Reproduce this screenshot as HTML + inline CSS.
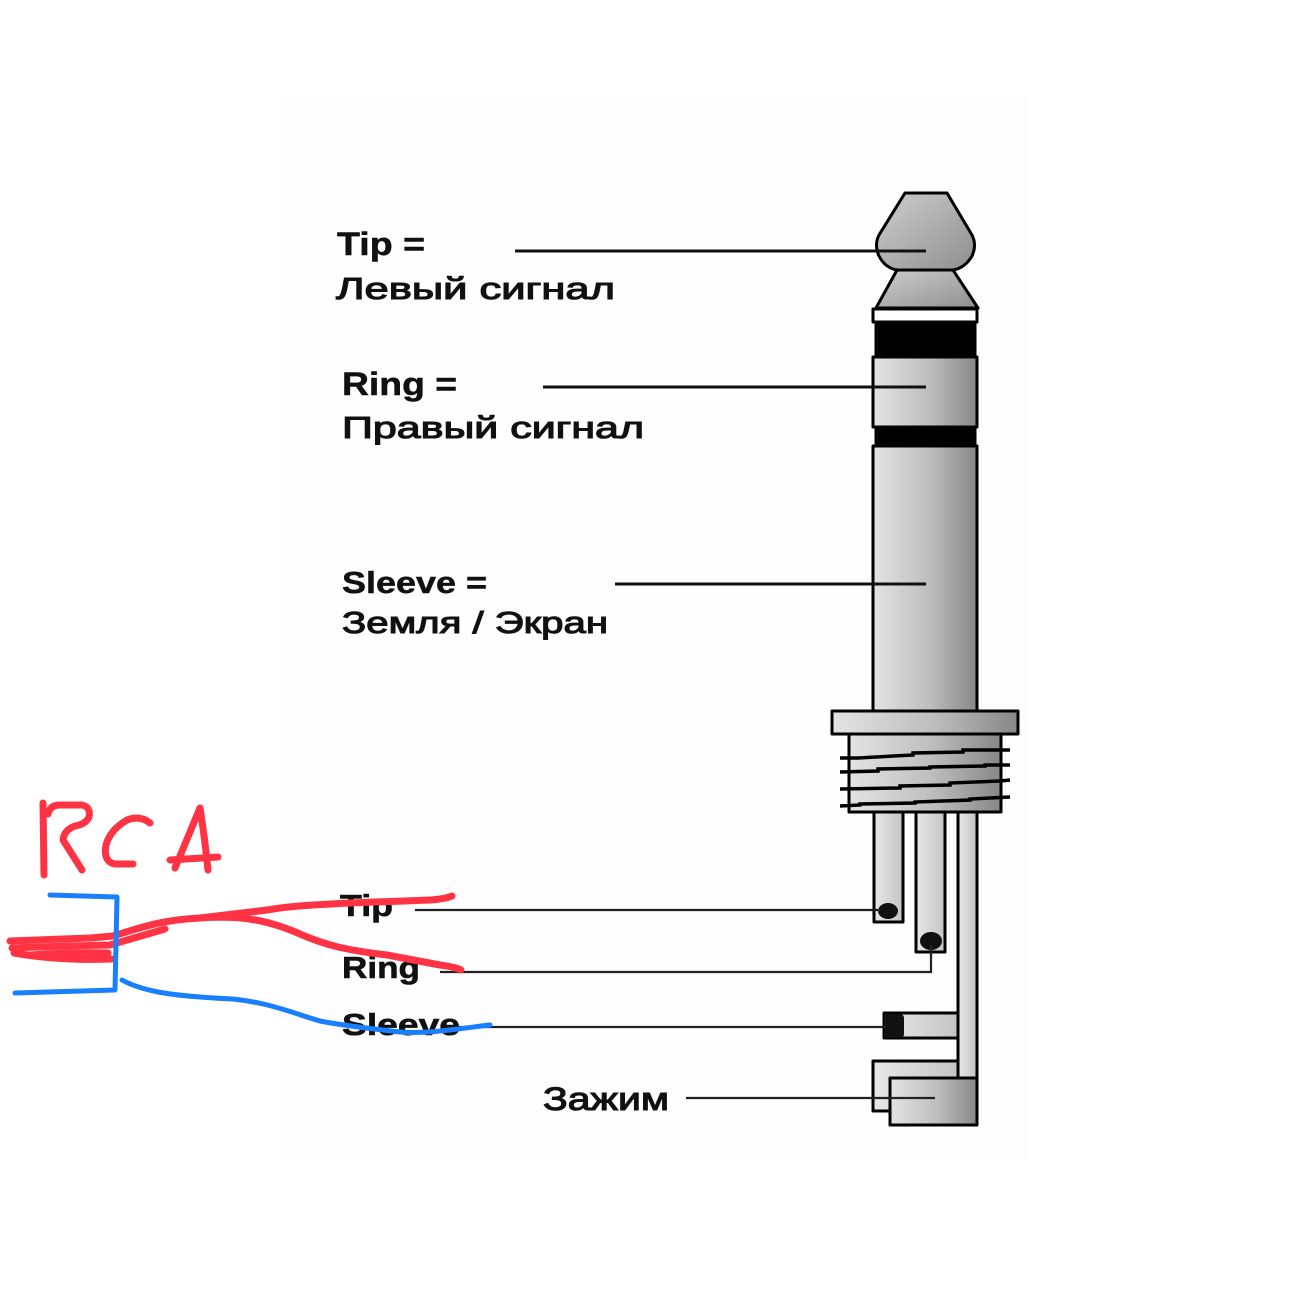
<!DOCTYPE html>
<html><head><meta charset="utf-8"><style>
html,body{margin:0;padding:0;background:#fff;}
svg{display:block;}
text{font-family:"Liberation Sans",Arial,sans-serif;fill:#111;}
</style></head><body>
<svg width="1316" height="1292" viewBox="0 0 1316 1292" xmlns="http://www.w3.org/2000/svg">
<defs>
<linearGradient id="g" x1="0" y1="0" x2="1" y2="0">
<stop offset="0" stop-color="#e4e4e4"/><stop offset="0.55" stop-color="#bdbdbd"/><stop offset="1" stop-color="#878787"/>
</linearGradient>
<linearGradient id="gt" x1="0" y1="0" x2="1" y2="1">
<stop offset="0" stop-color="#cfcfcf"/><stop offset="1" stop-color="#8e8e8e"/>
</linearGradient>
<linearGradient id="gl" x1="0" y1="0" x2="1" y2="0">
<stop offset="0" stop-color="#e8e8e8"/><stop offset="1" stop-color="#c4c4c4"/>
</linearGradient>
</defs>
<rect x="280" y="93" width="750" height="1067" fill="#fefefe"/>

<!-- plug -->
<g stroke="#000" stroke-width="3" stroke-linejoin="round">
<path d="M897,270 L953,270 L978,308 L876,308 Z" fill="url(#gt)"/>
<path d="M905,193 L947,193 L972,235 Q977,245 972,256 Q965,268 953,270 L897,270 Q885,268 879,256 Q874,245 879,235 Z" fill="url(#gt)"/>
<rect x="873" y="309" width="104" height="13" fill="#fff"/>
<rect x="876" y="322" width="99" height="35" fill="#000"/>
<rect x="873" y="357" width="104" height="70" fill="url(#g)"/>
<rect x="876" y="427" width="99" height="19" fill="#000"/>
<rect x="873" y="446" width="104" height="265" fill="url(#g)"/>
<rect x="832" y="711" width="186" height="23" fill="url(#g)"/>
<rect x="849" y="734" width="152" height="78" fill="url(#g)"/>
<!-- lugs -->
<rect x="874" y="812" width="29" height="110" fill="url(#gl)"/>
<rect x="916" y="812" width="29" height="140" fill="url(#gl)"/>
<rect x="884" y="1013" width="74" height="25" fill="url(#gl)"/>
<rect x="873" y="1061" width="85" height="50" fill="url(#gl)"/>
<rect x="958" y="812" width="19" height="266" fill="url(#gl)"/>
<rect x="890" y="1078" width="87" height="47" fill="url(#g)"/>
</g>
<!-- threads -->
<g stroke="#000" stroke-width="3.5" fill="none">
<polyline points="840,758 858,758 913,755 913,753 963,752 963,750 1010,750"/>
<polyline points="840,772 878,771 878,769 930,768 930,767 985,766 985,765 1010,765"/>
<polyline points="840,789 900,788 900,786 950,785 950,783 1000,781 1010,780"/>
<polyline points="840,806 860,805 860,804 915,803 915,802 970,800 970,799 1010,797"/>
</g>
<!-- solder blobs -->
<g fill="#111">
<ellipse cx="888" cy="911" rx="10" ry="8"/>
<ellipse cx="931" cy="941" rx="11" ry="9"/>
<rect x="884" y="1014" width="20" height="24" rx="4"/>
</g>

<!-- leader lines -->
<g stroke="#111" stroke-width="3">
<line x1="515" y1="251" x2="926" y2="251"/>
<line x1="543" y1="387" x2="926" y2="387"/>
<line x1="615" y1="584" x2="926" y2="584"/>
</g>
<g stroke="#222" stroke-width="2.2" fill="none">
<line x1="415" y1="910" x2="880" y2="910"/>
<polyline points="440,972 931,972 931,945"/>
<line x1="455" y1="1027" x2="886" y2="1027"/>
<line x1="686" y1="1098" x2="935" y2="1098"/>
</g>

<!-- labels -->
<text x="337" y="255" font-size="32" font-weight="bold" textLength="88" lengthAdjust="spacingAndGlyphs" stroke="#111" stroke-width="0.5">Tip =</text>
<text x="336" y="299" font-size="31" textLength="279" lengthAdjust="spacingAndGlyphs" stroke="#111" stroke-width="1.1">Левый сигнал</text>
<text x="342" y="395" font-size="32" font-weight="bold" textLength="115" lengthAdjust="spacingAndGlyphs" stroke="#111" stroke-width="0.5">Ring =</text>
<text x="342" y="438" font-size="31" textLength="302" lengthAdjust="spacingAndGlyphs" stroke="#111" stroke-width="1.1">Правый сигнал</text>
<text x="342" y="593" font-size="31" font-weight="bold" textLength="145" lengthAdjust="spacingAndGlyphs" stroke="#111" stroke-width="0.5">Sleeve =</text>
<text x="342" y="633" font-size="31" textLength="266" lengthAdjust="spacingAndGlyphs" stroke="#111" stroke-width="1.1">Земля / Экран</text>
<text x="340" y="916" font-size="31" font-weight="bold" textLength="53" lengthAdjust="spacingAndGlyphs" stroke="#111" stroke-width="0.6">Tip</text>
<text x="342" y="978" font-size="31" font-weight="bold" textLength="78" lengthAdjust="spacingAndGlyphs" stroke="#111" stroke-width="0.6">Ring</text>
<text x="342" y="1035" font-size="31" font-weight="bold" textLength="118" lengthAdjust="spacingAndGlyphs" stroke="#111" stroke-width="0.6">Sleeve</text>
<text x="543" y="1110" font-size="32" textLength="126" lengthAdjust="spacingAndGlyphs" stroke="#111" stroke-width="1.1">Зажим</text>

<!-- red RCA annotation -->
<g stroke="#ff3344" stroke-width="7" fill="none" stroke-linecap="round" stroke-linejoin="round">
<path d="M43,803 L44,875"/>
<path d="M48,814 Q50,805 60,805 L82,805 Q91,807 89,817 Q86,824 75,826 Q64,830 63,840 L82,870"/>
<path d="M150,823 Q140,815 127,820 Q110,830 106,845 Q103,862 115,864 L133,864"/>
<path d="M200,808 L175,868 M200,808 Q205,840 208,870 M170,860 L218,857"/>
<path d="M10,941 L90,938 L113,936 C140,928 160,920 200,918 L267,910 C290,906 310,905 350,903 L430,900 Q445,899 452,896"/>
<path d="M12,948 Q60,946 110,945 L165,929"/>
<path d="M14,953 Q60,961 112,959"/>
<path d="M30,955 Q70,952 108,953"/>
<path d="M200,918 C245,915 270,921 300,934 C325,945 345,950 387,955 L440,965 Q455,967 461,970"/>
</g>
<!-- blue -->
<g stroke="#1a7fff" stroke-width="5" fill="none" stroke-linecap="round" stroke-linejoin="round">
<path d="M50,895 L117,897 L115,990 L15,993"/>
<path d="M122,980 C140,990 165,996 233,999 C270,1003 290,1012 320,1021 C345,1026 375,1029 400,1032 C430,1034 455,1029 490,1025"/>
</g>
</svg>
</body></html>
